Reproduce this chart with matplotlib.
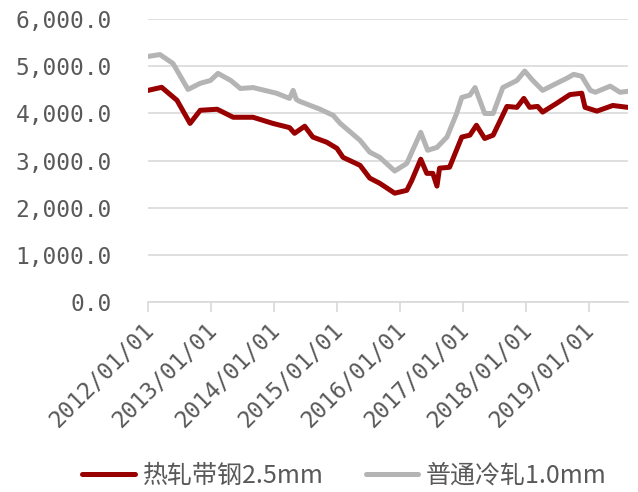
import pandas as pd
import matplotlib
matplotlib.use('Agg')
import matplotlib.pyplot as plt
import matplotlib.dates as mdates
import matplotlib.transforms as mtransforms
from matplotlib.ticker import FuncFormatter

plt.rcParams['font.family'] = ['Noto Sans CJK SC', 'DejaVu Sans']

hot_dates = ['2012-01-01', '2012-03-20', '2012-06-17', '2012-09-01', '2012-10-30',
             '2013-02-05', '2013-05-09', '2013-09-01', '2013-12-25', '2014-04-01',
             '2014-04-30', '2014-06-28', '2014-08-14', '2014-11-03', '2015-01-01',
             '2015-02-05', '2015-05-15', '2015-07-10', '2015-09-06', '2015-12-02',
             '2016-02-10', '2016-03-10', '2016-05-01', '2016-06-05', '2016-07-10',
             '2016-08-03', '2016-08-18', '2016-10-15', '2016-12-25', '2017-02-10',
             '2017-03-20', '2017-05-07', '2017-06-25', '2017-09-13', '2017-11-10',
             '2017-12-20', '2018-01-23', '2018-03-10', '2018-04-08', '2018-06-28',
             '2018-09-13', '2018-11-21', '2018-12-10', '2019-02-17', '2019-05-20',
             '2019-08-15']
hot_vals = [4490, 4555, 4280, 3790, 4068,
            4090, 3920, 3920, 3790, 3700,
            3580, 3730, 3500, 3390, 3260,
            3070, 2900, 2630, 2520, 2310,
            2370, 2580, 3030, 2730, 2730,
            2460, 2840, 2860, 3500, 3540,
            3750, 3470, 3540, 4150, 4130,
            4320, 4130, 4150, 4030, 4215,
            4400, 4430, 4130, 4050, 4170,
            4130]

cold_dates = ['2012-01-01', '2012-03-10', '2012-05-25', '2012-08-20', '2012-10-30',
              '2012-12-28', '2013-02-10', '2013-04-25', '2013-06-20', '2013-09-01',
              '2014-01-15', '2014-04-01', '2014-04-22', '2014-05-10', '2014-05-28',
              '2014-09-25', '2014-12-10', '2015-01-20', '2015-05-15', '2015-07-10',
              '2015-09-06', '2015-12-02', '2016-02-10', '2016-03-10', '2016-05-01',
              '2016-06-10', '2016-08-03', '2016-09-30', '2016-11-25', '2016-12-25',
              '2017-02-10', '2017-03-12', '2017-05-07', '2017-06-25', '2017-08-20',
              '2017-11-10', '2017-12-25', '2018-02-10', '2018-04-08', '2018-06-28',
              '2018-08-28', '2018-10-05', '2018-11-21', '2019-01-10', '2019-02-08',
              '2019-05-05', '2019-07-01', '2019-08-15']
cold_vals = [5210, 5250, 5060, 4510, 4640,
             4700, 4850, 4700, 4530, 4550,
             4430, 4320, 4490, 4300, 4260,
             4090, 3960, 3790, 3430, 3180,
             3070, 2780, 2940, 3180, 3600,
             3220, 3280, 3500, 4000, 4340,
             4390, 4550, 4000, 4000, 4550,
             4700, 4900, 4700, 4490, 4640,
             4750, 4830, 4790, 4490, 4450,
             4580, 4450, 4470]

hot_x = pd.to_datetime(hot_dates)
cold_x = pd.to_datetime(cold_dates)

fig = plt.figure(figsize=(6.38, 4.92), dpi=100)
ax = fig.add_axes([0.232, 0.386, 0.752, 0.575])

ax.plot(hot_x, hot_vals, color='#990000', linewidth=3.6, label='热轧带钢2.5mm',
        solid_capstyle='round', zorder=3)
ax.plot(cold_x, cold_vals, color='#b4b4b4', linewidth=3.6, label='普通冷轧1.0mm',
        solid_capstyle='round', zorder=2)

ax.set_ylim(0, 6000)
ax.set_yticks(range(0, 6001, 1000))
ax.yaxis.set_major_formatter(FuncFormatter(lambda v, p: f'{v:,.1f}'))
ax.set_xlim(pd.Timestamp('2012-01-01'), pd.Timestamp('2019-08-15'))
ax.xaxis.set_major_locator(mdates.YearLocator())
ax.xaxis.set_major_formatter(mdates.DateFormatter('%Y/%m/%d'))

ax.grid(axis='y', color='#d9d9d9', linewidth=1.2)
ax.set_axisbelow(True)
for s in ['left', 'right', 'top']:
    ax.spines[s].set_visible(False)
ax.spines['bottom'].set_color('#d9d9d9')
ax.spines['bottom'].set_linewidth(1.2)

ax.tick_params(axis='y', length=0, pad=26)
ax.tick_params(axis='x', length=7, width=1.2, color='#d9d9d9', pad=5)
for lbl in ax.get_yticklabels():
    lbl.set_family('DejaVu Sans Mono')
    lbl.set_fontsize(16.5)
    lbl.set_color('#595959')
shift = mtransforms.ScaledTranslation(-0.06, 0, fig.dpi_scale_trans)
for lbl in ax.get_xticklabels():
    lbl.set_family('DejaVu Sans Mono')
    lbl.set_fontsize(16.5)
    lbl.set_color('#595959')
    lbl.set_rotation(45)
    lbl.set_ha('right')
    lbl.set_va('top')
    lbl.set_rotation_mode('anchor')
    lbl.set_transform(lbl.get_transform() + shift)

fig.legend(loc='center', bbox_to_anchor=(0.54, 0.033), ncol=2, frameon=False,
           fontsize=18, labelcolor='#595959', handlelength=2.1, columnspacing=1.7,
           handletextpad=0.3, borderpad=0, borderaxespad=0)

plt.savefig('out.png', dpi=100)
